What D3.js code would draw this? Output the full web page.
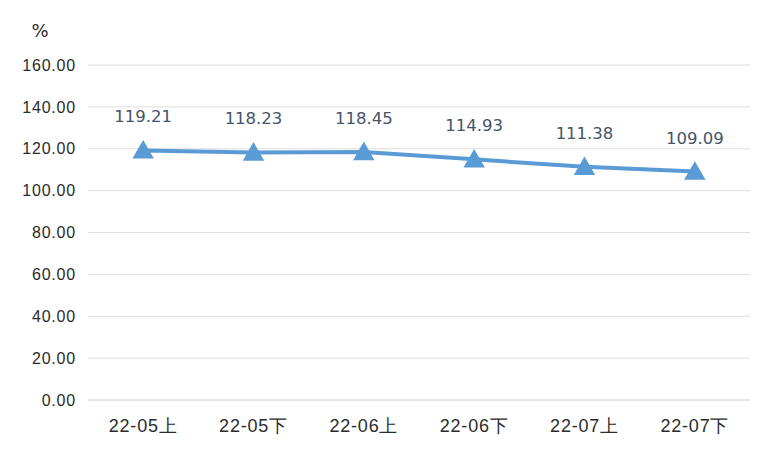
<!DOCTYPE html>
<html><head><meta charset="utf-8">
<script src="https://cdn.jsdelivr.net/npm/d3@7"></script>
<style>body{margin:0;background:#fff;}svg{display:block;font-family:"DejaVu Sans","Noto Sans CJK SC",sans-serif;}</style>
</head><body>
<svg id="c" width="760" height="453"></svg>
<script>
const categories = ["22-05上","22-05下","22-06上","22-06下","22-07上","22-07下"];
const values = [119.21,118.23,118.45,114.93,111.38,109.09];
const yTicks = [0,20,40,60,80,100,120,140,160];
const unitLabel = "%";

const svg = d3.select("#c");
const x = d3.scaleBand().domain(categories).range([88,750]);
const y = d3.scaleLinear().domain([0,160]).range([400,65]);

svg.append("g").selectAll("line").data(yTicks).join("line")
  .attr("x1",88).attr("x2",750)
  .attr("y1",d=>y(d)).attr("y2",d=>y(d))
  .attr("stroke",d=>d===0?"#d0d0d0":"#dedede").attr("stroke-width",1);

const yAxis = svg.append("g").attr("transform","translate(76,0)")
  .call(d3.axisLeft(y).tickValues(yTicks).tickFormat(d3.format(".2f")).tickSize(0).tickPadding(0));
yAxis.select(".domain").remove();
yAxis.selectAll("text").attr("font-size",16).attr("letter-spacing","0.8px")
  .attr("fill","#2b2b2b").attr("font-family","inherit");

const xAxis = svg.append("g").attr("transform","translate(0,400)")
  .call(d3.axisBottom(x).tickSize(0).tickPadding(0));
xAxis.select(".domain").remove();
xAxis.selectAll("text").attr("font-size",18).attr("letter-spacing","0.8px")
  .attr("fill","#2b2b2b").attr("font-family","inherit")
  .attr("dy",null).attr("y",32);

svg.append("text").attr("x",40).attr("y",37).attr("text-anchor","middle")
  .attr("font-size",18).attr("fill","#2b2b2b").text(unitLabel);

const cx = d => x(d)+x.bandwidth()/2;
svg.append("path").datum(values)
  .attr("d", d3.line().x((v,i)=>cx(categories[i])).y(v=>y(v)))
  .attr("fill","none").attr("stroke","#5b9bd5").attr("stroke-width",4);

svg.append("g").selectAll("path").data(values).join("path")
  .attr("d", d3.symbol(d3.symbolTriangle, 200))
  .attr("transform",(v,i)=>`translate(${cx(categories[i])},${y(v)+2})`)
  .attr("fill","#5b9bd5");

svg.append("g").selectAll("text").data(values).join("text")
  .attr("x",(v,i)=>cx(categories[i])).attr("y",v=>y(v)-28)
  .attr("text-anchor","middle").attr("font-size",16.5).attr("fill","#44546a")
  .text(v=>d3.format(".2f")(v));
</script>
</body></html>
